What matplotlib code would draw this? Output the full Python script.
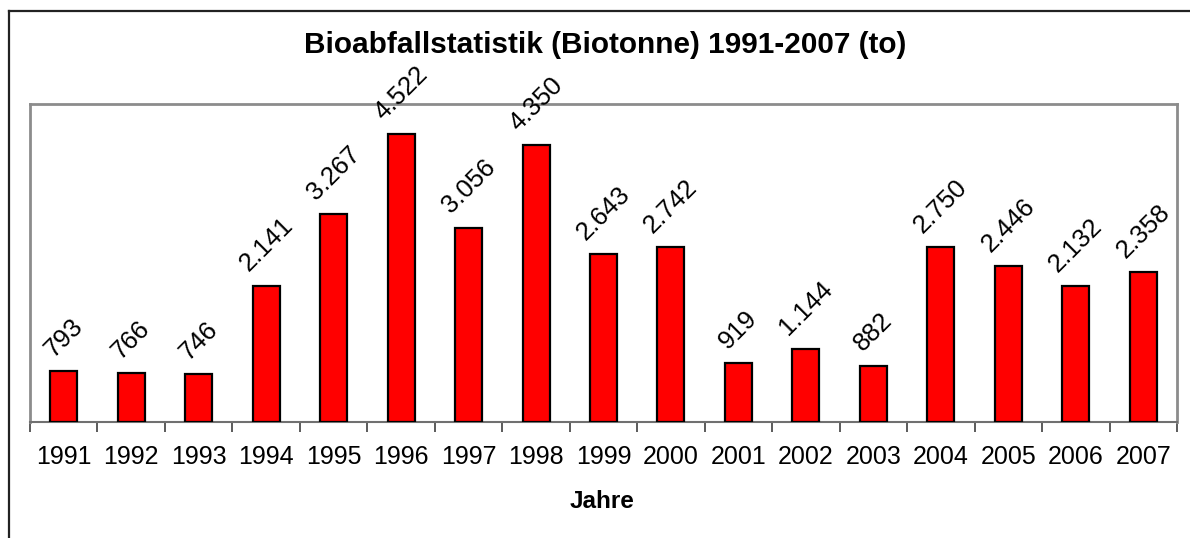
import matplotlib
matplotlib.use("Agg")
import matplotlib.pyplot as plt
from matplotlib.lines import Line2D
import numpy as np

years = ["1991", "1992", "1993", "1994", "1995", "1996", "1997", "1998", "1999",
         "2000", "2001", "2002", "2003", "2004", "2005", "2006", "2007"]
values = [793, 766, 746, 2141, 3267, 4522, 3056, 4350, 2643,
          2742, 919, 1144, 882, 2750, 2446, 2132, 2358]
title = "Bioabfallstatistik (Biotonne) 1991-2007 (to)"
xlabel = "Jahre"

W, H = 1190, 538
fig = plt.figure(figsize=(W / 100, H / 100), dpi=100)
fig.patch.set_facecolor("white")

left, right, top, bottom = 30, 1177, 104, 421.7
ax = fig.add_axes([left / W, 1 - bottom / H, (right - left) / W, (bottom - top) / H])

x = np.arange(len(years))
ax.bar(x, values, width=0.4, color="#ff0000", edgecolor="black", linewidth=1.6, zorder=3)

ax.set_xlim(-0.5, len(years) - 0.5)
ax.set_ylim(0, 5000)
ax.set_yticks([])

ax.set_xticks(x)
ax.set_xticklabels(years, fontsize=18, family="Liberation Sans")
ax.tick_params(axis="x", which="major", length=0, pad=17)
ax.set_xticks(np.arange(-0.5, len(years), 1), minor=True)
ax.tick_params(axis="x", which="minor", length=7, width=1.2, color="#404040", direction="out")

for side in ["left", "right", "top"]:
    ax.spines[side].set_color("#8c8c8c")
    ax.spines[side].set_linewidth(2)
ax.spines["bottom"].set_color("#707070")
ax.spines["bottom"].set_linewidth(1.5)

for xi, v in zip(x, values):
    lbl = f"{v:,}".replace(",", ".")
    ax.annotate(lbl, (xi, v), xytext=(0, 7), textcoords="offset points",
                ha="center", va="bottom", rotation=45, fontsize=18.5,
                family="Liberation Sans", color="black", clip_on=False, zorder=4)

fig.text(0.5 * (306 + 905) / W, 1 - 45 / H, title, ha="center", va="center",
         fontsize=21.4, fontweight="bold", family="Liberation Sans")
fig.text((570 + 635) / 2 / W, 1 - 502 / H, xlabel, ha="center", va="center",
         fontsize=17.5, fontweight="bold", family="Liberation Sans")

fx = 8.5 / W
fy = 1 - 11 / H
fig.add_artist(Line2D([fx, fx], [0, fy], transform=fig.transFigure, color="#222222", linewidth=1.6))
fig.add_artist(Line2D([fx, 1], [fy, fy], transform=fig.transFigure, color="#222222", linewidth=1.6))

fig.savefig("out.png", dpi=100, facecolor="white")
